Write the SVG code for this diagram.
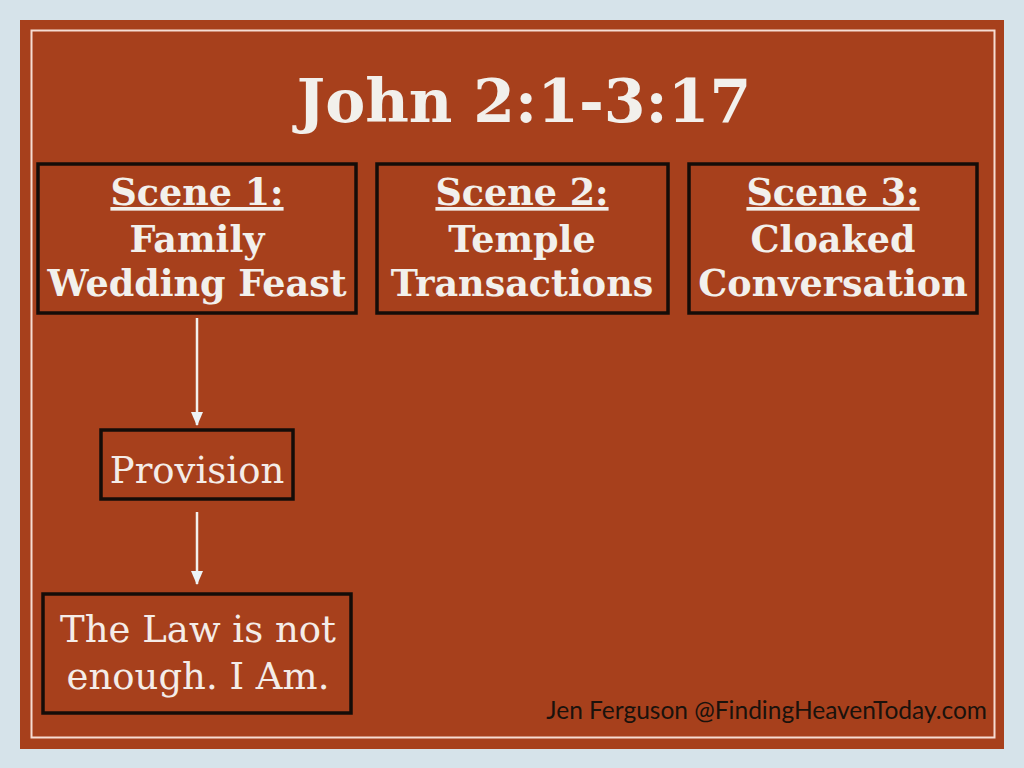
<svg xmlns="http://www.w3.org/2000/svg" width="1024" height="768" viewBox="0 0 1024 768">
<defs>
<style>
.box{fill:none;stroke:#140c08;stroke-width:3.5}
.bt{font-family:"DejaVu Serif",serif;font-weight:bold;font-size:36.5px;fill:#f2f0ec;text-anchor:middle}
.rt{font-family:"DejaVu Serif",serif;font-size:37px;fill:#f4ece8;text-anchor:middle}
.conn{stroke:#f2f0ec;stroke-width:2.5;fill:none}
</style>
<marker id="ah" viewBox="0 0 14 12" refX="13" refY="6" markerWidth="14" markerHeight="12" markerUnits="userSpaceOnUse" orient="auto">
<path d="M0,0 L14,6 L0,12 z" fill="#eef3f6"/>
</marker>
</defs>
<rect width="1024" height="768" fill="#d6e3ea"/>
<rect x="20" y="20" width="984" height="729" fill="#a7401c"/>
<rect x="31.5" y="30.5" width="963" height="707" fill="none" stroke="#f6dcd2" stroke-width="2"/>
<text x="524" y="122" font-family="DejaVu Serif,serif" font-weight="bold" font-size="60" fill="#f2f0ec" text-anchor="middle">John 2:1-3:17</text>
<g id="scene1">
<rect class="box" x="38" y="164" width="318" height="149"/>
<text class="bt" x="197" y="205" text-decoration="underline">Scene 1:</text>
<text class="bt" x="197" y="252">Family</text>
<text class="bt" x="197" y="296">Wedding Feast</text>
</g>
<g id="scene2">
<rect class="box" x="377" y="164" width="291" height="149"/>
<text class="bt" x="522" y="205" text-decoration="underline">Scene 2:</text>
<text class="bt" x="522" y="252">Temple</text>
<text class="bt" x="522" y="296">Transactions</text>
</g>
<g id="scene3">
<rect class="box" x="689" y="164" width="288" height="149"/>
<text class="bt" x="833" y="205" text-decoration="underline">Scene 3:</text>
<text class="bt" x="833" y="252">Cloaked</text>
<text class="bt" x="833" y="296">Conversation</text>
</g>
<g id="provision">
<rect class="box" x="101" y="430" width="192" height="69"/>
<text class="rt" x="197" y="483">Provision</text>
</g>
<g id="law">
<rect class="box" x="43" y="594" width="308" height="119"/>
<text class="rt" x="198" y="642">The Law is not</text>
<text class="rt" x="198" y="689">enough. I Am.</text>
</g>
<g id="connectors">
<line class="conn" x1="197" y1="318" x2="197" y2="425" marker-end="url(#ah)"/>
<line class="conn" x1="197" y1="512" x2="197" y2="584" marker-end="url(#ah)"/>
</g>
<text x="987" y="719" font-family="Lato,sans-serif" font-size="24.5" fill="#1a120c" text-anchor="end">Jen Ferguson @FindingHeavenToday.com</text>
</svg>
